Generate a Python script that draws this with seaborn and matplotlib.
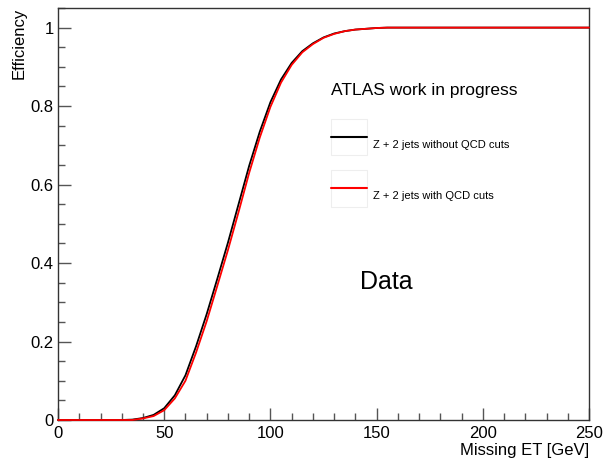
import numpy as np
import pandas as pd
import matplotlib.pyplot as plt
import seaborn as sns
from matplotlib.patches import Rectangle
from matplotlib.ticker import MultipleLocator

# missing ET points [GeV] and efficiencies
met = [0, 5, 10, 15, 20, 25, 30, 35, 40, 45, 50, 55, 60, 65, 70, 75, 80, 85, 90,
       95, 100, 105, 110, 115, 120, 125, 130, 135, 140, 145, 150, 155, 160,
       170, 180, 190, 200, 210, 220, 230, 240, 250]
eff_no_qcd = [0, 0, 0, 0, 0, 0, 0, 0.001, 0.005, 0.013, 0.03, 0.063, 0.114, 0.188,
              0.27, 0.36, 0.452, 0.55, 0.648, 0.735, 0.81, 0.868, 0.91, 0.94, 0.96,
              0.975, 0.985, 0.991, 0.995, 0.997, 0.999, 1.0, 1.0,
              1.0, 1.0, 1.0, 1.0, 1.0, 1.0, 1.0, 1.0, 1.0]
eff_qcd = [0, 0, 0, 0, 0, 0, 0, 0, 0.004, 0.01, 0.025, 0.055, 0.1, 0.172,
           0.252, 0.342, 0.433, 0.53, 0.63, 0.72, 0.798, 0.86, 0.905, 0.937, 0.958,
           0.974, 0.984, 0.991, 0.995, 0.997, 0.999, 1.0, 1.0,
           1.0, 1.0, 1.0, 1.0, 1.0, 1.0, 1.0, 1.0, 1.0]
labels = ["Z + 2 jets without QCD cuts", "Z + 2 jets with QCD cuts"]
colors = ["black", "red"]

df = pd.concat([
    pd.DataFrame({"met": met, "eff": eff_no_qcd, "sample": labels[0]}),
    pd.DataFrame({"met": met, "eff": eff_qcd, "sample": labels[1]}),
])

sns.set_style("white")
plt.rcParams["font.family"] = ["Liberation Sans", "DejaVu Sans"]
plt.rcParams["text.color"] = "black"
plt.rcParams["axes.labelcolor"] = "black"

fig = plt.figure(figsize=(6.05, 4.65), dpi=100)
ax = fig.add_axes([0.0959, 0.0968, 0.8777, 0.886])

sns.lineplot(data=df, x="met", y="eff", hue="sample", palette=colors,
             linewidth=1.3, legend=False, ax=ax, sort=False)
# keep the curves above the frame so the flat part at 0 shows
for ln in ax.get_lines():
    ln.set_zorder(3)
    ln.set_clip_on(False)

ax.set_xlim(0, 250)
ax.set_ylim(0, 1.05)
ax.xaxis.set_major_locator(MultipleLocator(50))
ax.xaxis.set_minor_locator(MultipleLocator(10))
ax.yaxis.set_minor_locator(MultipleLocator(0.05))
ax.set_yticks([0, 0.2, 0.4, 0.6, 0.8, 1.0])
ax.set_yticklabels(["0", "0.2", "0.4", "0.6", "0.8", "1"])
ax.tick_params(which="both", direction="in", color="#555555", labelcolor="black",
               labelsize=12, top=False, right=False, bottom=True, left=True)
ax.tick_params(which="major", length=9, width=1)
ax.tick_params(which="minor", length=5, width=1)
ax.tick_params(axis="x", pad=4)
ax.tick_params(axis="y", pad=3)
for s in ax.spines.values():
    s.set_color("#333333")
    s.set_linewidth(1)

ax.set_xlabel("Missing ET [GeV]", fontsize=12, loc="right", labelpad=2)
ax.set_ylabel("Efficiency", fontsize=12, loc="top", labelpad=3)

ax.text(0.514, 0.799, "ATLAS work in progress", transform=ax.transAxes,
        fontsize=12.5, va="center", ha="left")
ax.text(0.569, 0.335, "Data", transform=ax.transAxes,
        fontsize=18, va="center", ha="left")

# legend entries, one box each
box_y = [0.643, 0.5177]
for lab, col, y0 in zip(labels, colors, box_y):
    ax.add_patch(Rectangle((0.514, y0), 0.067, 0.088, transform=ax.transAxes,
                           facecolor="white", edgecolor="#eeeeee", lw=0.8))
    ax.plot([0.514, 0.581], [y0 + 0.045, y0 + 0.045], transform=ax.transAxes,
            color=col, lw=1.5)
    ax.text(0.593, y0 + 0.025, lab, transform=ax.transAxes,
            fontsize=8, va="center", ha="left")

plt.savefig("out.png", dpi=100)
